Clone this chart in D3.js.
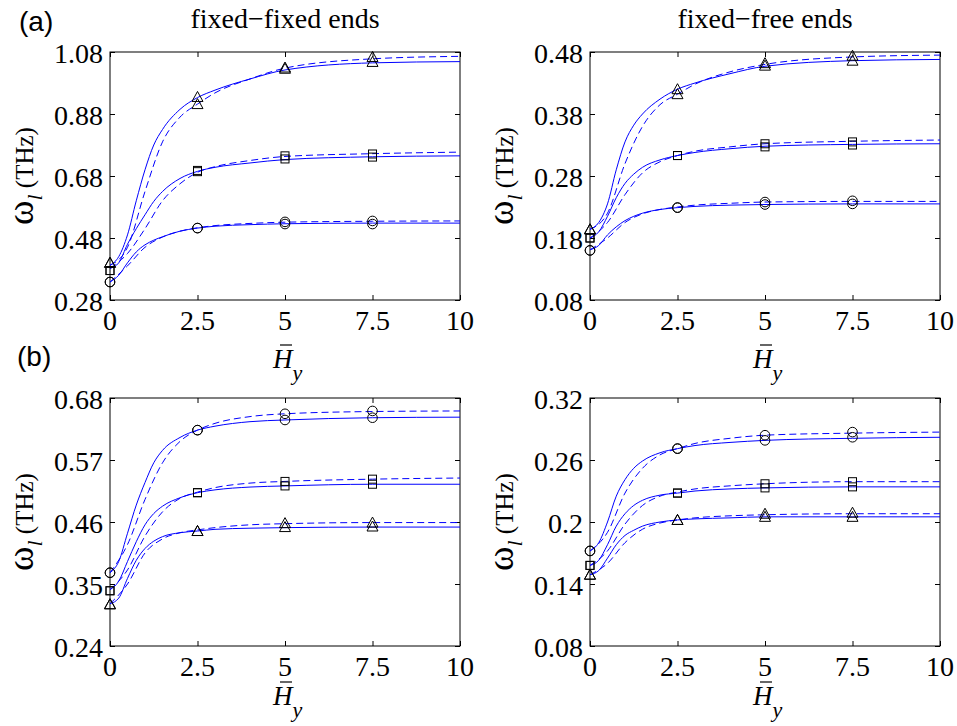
<!DOCTYPE html>
<html>
<head>
<meta charset="utf-8">
<script src="https://d3js.org/d3.v7.min.js"></script>
<style>
  body { margin: 0; background: #fff; }
  svg { display: block; }
  text.lbl { font-family: "Liberation Serif", "Times New Roman", serif; fill: #000; }
</style>
</head>
<body>
<div id="chart"></div>
<script>
// x grids used for the curves and markers
const xsSolid = [0, 0.25, 0.5, 0.75, 1, 1.25, 1.5, 2, 2.5, 3, 4, 5, 7.5, 10];
const xsDash = [0, 0.5, 1, 1.5, 2, 2.5, 3, 4, 5, 7.5, 10];
const xsMark = [0, 2.5, 5, 7.5];
const xTicks = [0, 2.5, 5, 7.5, 10];
const xTickLabels = ["0", "2.5", "5", "7.5", "10"];

// series order in each panel: triangle, square, circle
// (a) fixed-fixed
const aFixedSolid = [
  [0.392, 0.42, 0.49, 0.60, 0.70, 0.78, 0.83, 0.895, 0.933, 0.957, 0.993, 1.022, 1.045, 1.049],
  [0.382, 0.40, 0.46, 0.51, 0.555, 0.598, 0.63, 0.672, 0.695, 0.708, 0.722, 0.733, 0.742, 0.745],
  [0.338, 0.36, 0.40, 0.435, 0.458, 0.473, 0.484, 0.502, 0.512, 0.518, 0.523, 0.526, 0.528, 0.528]
];
const aFixedDash = [
  [0.392, 0.45, 0.63, 0.79, 0.87, 0.912, 0.948, 0.993, 1.028, 1.058, 1.066],
  [0.382, 0.43, 0.51, 0.60, 0.655, 0.692, 0.71, 0.73, 0.743, 0.752, 0.757],
  [0.338, 0.39, 0.45, 0.483, 0.502, 0.513, 0.52, 0.527, 0.531, 0.534, 0.535]
];
const aFixedMarkHi = [[0.40, 0.935, 1.030, 1.064], [0.375, 0.698, 0.745, 0.751], [0.338, 0.512, 0.532, 0.535]];
const aFixedMarkLo = [[0.40, 0.912, 1.026, 1.048], [0.375, 0.694, 0.735, 0.741], [0.338, 0.512, 0.525, 0.525]];

// (a) fixed-free
const aFreeSolid = [
  [0.194, 0.205, 0.235, 0.29, 0.335, 0.362, 0.38, 0.404, 0.42, 0.43, 0.445, 0.457, 0.466, 0.468],
  [0.18, 0.19, 0.215, 0.245, 0.268, 0.283, 0.294, 0.306, 0.313, 0.318, 0.324, 0.328, 0.331, 0.332],
  [0.161, 0.168, 0.185, 0.198, 0.208, 0.215, 0.22, 0.226, 0.229, 0.231, 0.233, 0.234, 0.235, 0.235]
];
const aFreeDash = [
  [0.194, 0.22, 0.30, 0.36, 0.395, 0.412, 0.428, 0.448, 0.46, 0.472, 0.475],
  [0.18, 0.205, 0.25, 0.285, 0.303, 0.313, 0.32, 0.327, 0.332, 0.336, 0.338],
  [0.161, 0.18, 0.205, 0.219, 0.226, 0.23, 0.233, 0.236, 0.238, 0.239, 0.239]
];
const aFreeMarkHi = [[0.194, 0.42, 0.462, 0.474], [0.18, 0.313, 0.332, 0.335], [0.16, 0.229, 0.238, 0.24]];
const aFreeMarkLo = [[0.194, 0.412, 0.458, 0.466], [0.18, 0.313, 0.327, 0.33], [0.16, 0.229, 0.234, 0.235]];

// (b) fixed-fixed
const bFixedSolid = [
  [0.315, 0.325, 0.36, 0.392, 0.413, 0.426, 0.434, 0.441, 0.444, 0.447, 0.449, 0.45, 0.451, 0.451],
  [0.34, 0.355, 0.39, 0.425, 0.455, 0.475, 0.488, 0.503, 0.512, 0.517, 0.522, 0.524, 0.527, 0.527],
  [0.37, 0.39, 0.44, 0.49, 0.53, 0.565, 0.587, 0.61, 0.623, 0.63, 0.638, 0.641, 0.645, 0.646]
];
const bFixedDash = [
  [0.315, 0.35, 0.405, 0.43, 0.441, 0.446, 0.45, 0.455, 0.457, 0.459, 0.459],
  [0.34, 0.375, 0.435, 0.478, 0.502, 0.513, 0.521, 0.529, 0.532, 0.536, 0.538],
  [0.37, 0.42, 0.50, 0.565, 0.603, 0.623, 0.635, 0.647, 0.652, 0.656, 0.657]
];
const bFixedMarkHi = [[0.314, 0.444, 0.458, 0.459], [0.338, 0.512, 0.532, 0.536], [0.37, 0.623, 0.652, 0.657]];
const bFixedMarkLo = [[0.314, 0.444, 0.451, 0.452], [0.338, 0.512, 0.524, 0.527], [0.37, 0.623, 0.641, 0.645]];

// (b) fixed-free
const bFreeSolid = [
  [0.149, 0.153, 0.165, 0.178, 0.187, 0.192, 0.196, 0.2, 0.202, 0.203, 0.204, 0.205, 0.205, 0.205],
  [0.158, 0.163, 0.178, 0.196, 0.208, 0.216, 0.221, 0.226, 0.228, 0.23, 0.232, 0.233, 0.234, 0.234],
  [0.172, 0.18, 0.2, 0.225, 0.241, 0.252, 0.259, 0.267, 0.271, 0.274, 0.277, 0.279, 0.281, 0.282]
];
const bFreeDash = [
  [0.149, 0.16, 0.18, 0.193, 0.199, 0.202, 0.204, 0.206, 0.207, 0.208, 0.208],
  [0.158, 0.172, 0.198, 0.216, 0.225, 0.229, 0.232, 0.235, 0.237, 0.239, 0.239],
  [0.172, 0.19, 0.228, 0.252, 0.265, 0.271, 0.276, 0.281, 0.284, 0.286, 0.287]
];
const bFreeMarkHi = [[0.149, 0.202, 0.208, 0.209], [0.158, 0.228, 0.237, 0.239], [0.172, 0.271, 0.284, 0.287]];
const bFreeMarkLo = [[0.149, 0.202, 0.205, 0.205], [0.158, 0.228, 0.233, 0.234], [0.172, 0.271, 0.279, 0.282]];

// y ticks
const aFixedTicks = ["0.28", "0.48", "0.68", "0.88", "1.08"];
const aFreeTicks = ["0.08", "0.18", "0.28", "0.38", "0.48"];
const bFixedTicks = ["0.24", "0.35", "0.46", "0.57", "0.68"];
const bFreeTicks = ["0.08", "0.14", "0.2", "0.26", "0.32"];

const width = 957, height = 726;

const svg = d3.select("#chart").append("svg")
  .attr("width", width)
  .attr("height", height);

function tickMarks(sel) {
  sel.select(".domain").remove();
  sel.selectAll(".tick line").attr("stroke", "#000");
}

function drawPanel(p) {
  const x = d3.scaleLinear().domain([0, 10]).range([p.left, p.left + 350]);
  const tickVals = p.ticks.map(Number);
  const y = d3.scaleLinear().domain([tickVals[0], tickVals[tickVals.length - 1]]).range([p.top + 248, p.top]);
  const g = svg.append("g");

  // tick marks pointing inward on all four sides
  g.append("g").attr("transform", `translate(0,${p.top + 248})`)
    .call(d3.axisBottom(x).tickValues(xTicks).tickSize(-5).tickFormat("")).call(tickMarks);
  g.append("g").attr("transform", `translate(0,${p.top})`)
    .call(d3.axisTop(x).tickValues(xTicks).tickSize(-5).tickFormat("")).call(tickMarks);
  g.append("g").attr("transform", `translate(${p.left},0)`)
    .call(d3.axisLeft(y).tickValues(tickVals).tickSize(-5).tickFormat("")).call(tickMarks);
  g.append("g").attr("transform", `translate(${p.left + 350},0)`)
    .call(d3.axisRight(y).tickValues(tickVals).tickSize(-5).tickFormat("")).call(tickMarks);

  // tick labels
  g.selectAll(".xl").data(xTicks).enter().append("text")
    .attr("class", "lbl")
    .attr("x", d => x(d)).attr("y", p.top + 248 + 30)
    .attr("text-anchor", "middle")
    .attr("font-size", 28)
    .text((d, i) => xTickLabels[i]);
  g.selectAll(".yl").data(tickVals).enter().append("text")
    .attr("class", "lbl")
    .attr("x", p.left - 7).attr("y", d => y(d) + 11)
    .attr("text-anchor", "end")
    .attr("font-size", 28)
    .text((d, i) => p.ticks[i]);

  g.append("rect")
    .attr("x", p.left).attr("y", p.top)
    .attr("width", 350).attr("height", 248)
    .attr("fill", "none").attr("stroke", "#000").attr("stroke-width", 1);

  const lineS = d3.line().x((d, i) => x(xsSolid[i])).y(d => y(d)).curve(d3.curveMonotoneX);
  const lineD = d3.line().x((d, i) => x(xsDash[i])).y(d => y(d)).curve(d3.curveMonotoneX);

  g.selectAll(".solid").data(p.solid).enter().append("path")
    .attr("class", "solid")
    .attr("d", lineS)
    .attr("fill", "none").attr("stroke", "#0000ff").attr("stroke-width", 1);
  g.selectAll(".dash").data(p.dash).enter().append("path")
    .attr("class", "dash")
    .attr("d", lineD)
    .attr("fill", "none").attr("stroke", "#0000ff").attr("stroke-width", 1)
    .attr("stroke-dasharray", "7,4");

  // markers: 0 triangle, 1 square, 2 circle
  function marker(shape, cx, cy) {
    if (shape === 0) {
      g.append("path")
        .attr("d", `M${cx - 5.5},${cy + 4.5}L${cx + 5.5},${cy + 4.5}L${cx},${cy - 5.5}Z`)
        .attr("fill", "none").attr("stroke", "#000").attr("stroke-width", 1);
    } else if (shape === 1) {
      g.append("rect")
        .attr("x", cx - 4).attr("y", cy - 4).attr("width", 8).attr("height", 8)
        .attr("fill", "none").attr("stroke", "#000").attr("stroke-width", 1);
    } else {
      g.append("circle")
        .attr("cx", cx).attr("cy", cy).attr("r", 4.8)
        .attr("fill", "none").attr("stroke", "#000").attr("stroke-width", 1);
    }
  }
  [p.markHi, p.markLo].forEach(set => {
    set.forEach((vals, s) => {
      vals.forEach((v, i) => marker(s, x(xsMark[i]), y(v)));
    });
  });

  // y label: omega_l (THz)
  const cy = p.top + 124;
  const yl = g.append("text")
    .attr("class", "lbl")
    .attr("transform", `translate(${p.left - 77},${cy}) rotate(-90)`)
    .attr("text-anchor", "middle");
  yl.append("tspan").attr("font-size", 37).text("ω");
  yl.append("tspan").attr("font-size", 22).attr("font-style", "italic").attr("dy", 9).text("l");
  yl.append("tspan").attr("font-size", 25).attr("dy", -9).text(" (THz)");

  // x label: H-bar sub y
  const hx = p.left + 163;
  const hy = p.xlabY;
  const xl = g.append("text")
    .attr("class", "lbl")
    .attr("x", hx).attr("y", hy)
    .attr("font-style", "italic");
  xl.append("tspan").attr("font-size", 27).text("H");
  xl.append("tspan").attr("font-size", 22).attr("dy", 12).text("y");
  g.append("line")
    .attr("x1", hx + 7).attr("x2", hx + 19)
    .attr("y1", hy - 23).attr("y2", hy - 23)
    .attr("stroke", "#000").attr("stroke-width", 1.2);

  if (p.title) {
    g.append("text")
      .attr("class", "lbl")
      .attr("x", p.left + 175).attr("y", 28)
      .attr("text-anchor", "middle")
      .attr("font-size", 28)
      .text(p.title);
  }
}

drawPanel({ left: 110, top: 52, ticks: aFixedTicks, solid: aFixedSolid, dash: aFixedDash,
  markHi: aFixedMarkHi, markLo: aFixedMarkLo, xlabY: 368, title: "fixed−fixed ends" });
drawPanel({ left: 590, top: 52, ticks: aFreeTicks, solid: aFreeSolid, dash: aFreeDash,
  markHi: aFreeMarkHi, markLo: aFreeMarkLo, xlabY: 368, title: "fixed−free ends" });
drawPanel({ left: 110, top: 398, ticks: bFixedTicks, solid: bFixedSolid, dash: bFixedDash,
  markHi: bFixedMarkHi, markLo: bFixedMarkLo, xlabY: 705 });
drawPanel({ left: 590, top: 398, ticks: bFreeTicks, solid: bFreeSolid, dash: bFreeDash,
  markHi: bFreeMarkHi, markLo: bFreeMarkLo, xlabY: 705 });

// panel letters
svg.append("text").attr("x", 19).attr("y", 31)
  .attr("font-family", "Liberation Sans").attr("font-size", 28)
  .text("(a)");
svg.append("text").attr("x", 17).attr("y", 366)
  .attr("font-family", "Liberation Sans").attr("font-size", 28)
  .text("(b)");
</script>
</body>
</html>
